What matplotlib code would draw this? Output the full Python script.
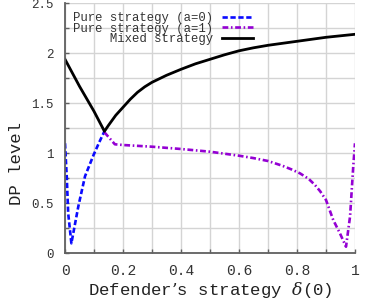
import numpy as np
import matplotlib
matplotlib.use("Agg")
import matplotlib.pyplot as plt
from matplotlib.ticker import MultipleLocator, FuncFormatter

# values
x_pure0 = [0.0, 0.006, 0.011, 0.022, 0.046, 0.069, 0.098, 0.118, 0.136]
y_pure0 = [1.10, 0.77, 0.40, 0.10, 0.47, 0.77, 0.98, 1.11, 1.22]

x_pure1 = [0.136, 0.172, 0.2, 0.3, 0.4, 0.5, 0.6, 0.65, 0.7, 0.75, 0.78,
           0.81, 0.84, 0.862, 0.88, 0.9, 0.925, 0.948, 0.969, 0.983, 0.994, 1.0]
y_pure1 = [1.21, 1.09, 1.083, 1.066, 1.043, 1.016, 0.976, 0.952, 0.923, 0.875,
           0.84, 0.80, 0.745, 0.683, 0.62, 0.533, 0.333, 0.20, 0.066, 0.37,
           0.87, 1.10]

x_mixed = [0.0, 0.05, 0.1, 0.136, 0.15, 0.175, 0.2, 0.225, 0.25, 0.275, 0.3,
           0.35, 0.4, 0.45, 0.5, 0.55, 0.6, 0.65, 0.7, 0.75, 0.8, 0.9, 1.0]
y_mixed = [1.94, 1.67, 1.42, 1.22, 1.28, 1.38, 1.46, 1.54, 1.61, 1.665, 1.71,
           1.78, 1.84, 1.895, 1.94, 1.985, 2.025, 2.055, 2.08, 2.10, 2.12,
           2.16, 2.19]

labels = ["Pure strategy (a=0)", "Pure strategy (a=1)", "     Mixed strategy"]

plt.rcParams['font.family'] = ['Liberation Mono', 'DejaVu Sans']
plt.rcParams['mathtext.fontset'] = 'dejavuserif'

fig = plt.figure(figsize=(3.69, 3.06), dpi=100)
ax = fig.add_axes([65 / 369, 1 - 253.3 / 306, 290 / 369, 250 / 306])

ax.plot(x_pure0, y_pure0, color='#0a0aff', lw=1.9, dashes=(2, 1),
        label=labels[0])
ax.plot(x_pure1, y_pure1, color='#9400d3', lw=1.9, dashes=(2.2, 1, 0.6, 1),
        label=labels[1])
ax.plot(x_mixed, y_mixed, color='black', lw=2.0, label=labels[2])

ax.set_xlim(0, 1)
ax.set_ylim(0, 2.5)
ax.xaxis.set_major_locator(MultipleLocator(0.2))
ax.xaxis.set_minor_locator(MultipleLocator(0.1))
ax.yaxis.set_major_locator(MultipleLocator(0.5))
ax.yaxis.set_minor_locator(MultipleLocator(0.25))
ax.xaxis.set_major_formatter(FuncFormatter(lambda v, p: '%g' % round(v, 2)))
ax.yaxis.set_major_formatter(FuncFormatter(lambda v, p: '%g' % round(v, 2)))

ax.grid(True, which='both', color='#d4d4d4', lw=1.0)
ax.set_axisbelow(True)
for s in ['top', 'right']:
    ax.spines[s].set_visible(False)
for s in ['left', 'bottom']:
    ax.spines[s].set_color('#606060')
    ax.spines[s].set_linewidth(1.3)

ax.tick_params(which='both', direction='in', color='#606060', length=3,
               width=1)
ax.tick_params(axis='x', labelsize=10.5, pad=8, labelcolor='#333333')
ax.tick_params(axis='y', labelsize=9, pad=8, labelcolor='#333333')

ax.set_xlabel("Defender’s strategy $\\delta$(0)", fontsize=12.5,
              color='#222222', labelpad=1)
ax.set_ylabel("DP level", fontsize=12.5, color='#222222')
ax.yaxis.set_label_coords(-0.14, 0.36)

leg = ax.legend(loc='upper left', bbox_to_anchor=(0.005, 0.99), frameon=False,
                markerfirst=False, fontsize=8.8, handlelength=2.5,
                handletextpad=0.8, labelspacing=-0.1, borderpad=0.3,
                borderaxespad=0.2)
for t in leg.get_texts():
    t.set_color('#333333')

fig.savefig('out.png', dpi=100)
